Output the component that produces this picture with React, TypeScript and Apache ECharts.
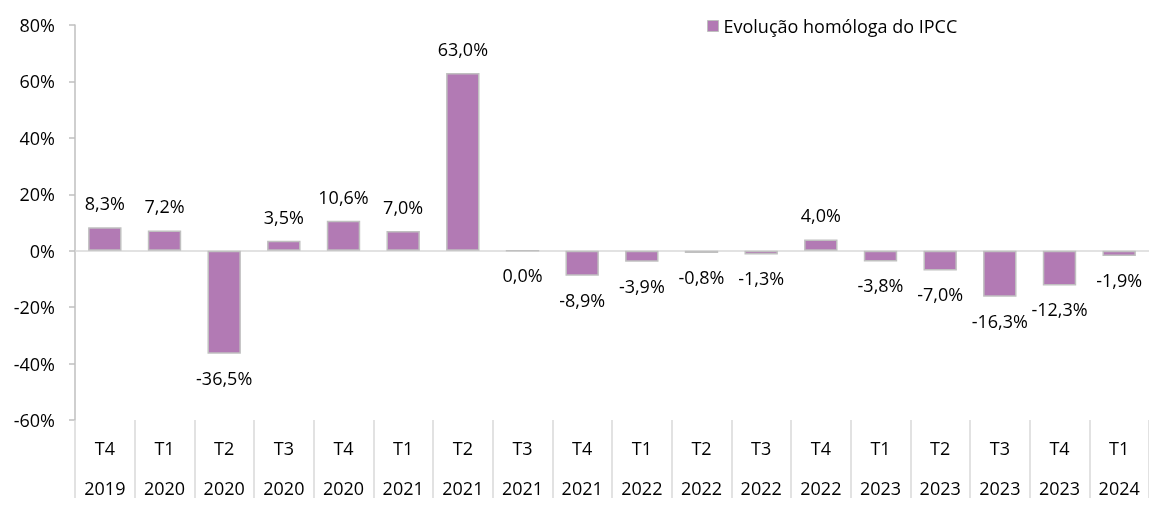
import React, { useEffect, useRef } from "react";
import * as echarts from "echarts";

const quarters = ["T4", "T1", "T2", "T3", "T4", "T1", "T2", "T3", "T4", "T1", "T2", "T3", "T4", "T1", "T2", "T3", "T4", "T1"];
const years = ["2019", "2020", "2020", "2020", "2020", "2021", "2021", "2021", "2021", "2022", "2022", "2022", "2022", "2023", "2023", "2023", "2023", "2024"];
const values = [8.3, 7.2, -36.5, 3.5, 10.6, 7.0, 63.0, 0.0, -8.9, -3.9, -0.8, -1.3, 4.0, -3.8, -7.0, -16.3, -12.3, -1.9];
// 0,0% is drawn below the axis in the reference, like the negative values
const labelBelow = [false, false, true, false, false, false, false, true, true, true, true, true, false, true, true, true, true, true];
const seriesName = "Evolução homóloga do IPCC";

const FONT = "'Open Sans', sans-serif";

export default function App() {
  const ref = useRef<HTMLDivElement>(null);
  useEffect(() => {
    if (!ref.current) return;
    const chart = echarts.init(ref.current, undefined, { renderer: "svg" });
    const categories = quarters.map((q, i) => `${q}\n${years[i]}`);
    chart.setOption({
      animation: false,
      textStyle: { fontFamily: FONT },
      grid: { left: 75, right: 0, top: 25, bottom: 78, containLabel: false },
      legend: {
        left: 702,
        top: 12,
        itemWidth: 11,
        itemHeight: 11,
        itemGap: 5,
        textStyle: { fontSize: 18, color: "#000", fontFamily: FONT },
        data: [{ name: seriesName, icon: "rect", itemStyle: { borderColor: "#bfbfbf", borderWidth: 1 } }],
      },
      xAxis: {
        type: "category",
        data: categories,
        boundaryGap: true,
        axisLine: { show: false, onZero: false },
        axisTick: { show: true, inside: false, length: 78, interval: 0, lineStyle: { color: "#d9d9d9", width: 1.5 } },
        axisLabel: { interval: 0, fontSize: 18, color: "#000", lineHeight: 40, margin: 8, fontFamily: FONT },
        splitLine: { show: false },
      },
      yAxis: {
        type: "value",
        min: -60,
        max: 80,
        interval: 20,
        axisLine: { show: true, lineStyle: { color: "#bfbfbf", width: 1.5 } },
        axisTick: { show: true, length: 6, lineStyle: { color: "#bfbfbf", width: 1.5 } },
        axisLabel: { formatter: (v: number) => `${v}%`, fontSize: 18, color: "#000", margin: 20, fontFamily: FONT },
        splitLine: { show: false },
      },
      series: [
        {
          name: seriesName,
          type: "bar",
          barWidth: "56%",
          data: values.map((v, i) => ({
            value: v,
            label: { position: labelBelow[i] ? "bottom" : "top" },
          })),
          itemStyle: { color: "#b27ab4", borderColor: "#c0c0c0", borderWidth: 1.5 },
          label: {
            show: true,
            distance: 15,
            fontSize: 18,
            color: "#000",
            fontFamily: FONT,
            formatter: (p: any) => `${Number(p.value).toFixed(1).replace(".", ",")}%`,
          },
          markLine: {
            silent: true,
            symbol: "none",
            label: { show: false },
            lineStyle: { color: "#d9d9d9", type: "solid", width: 1.5 },
            data: [{ yAxis: 0 }],
            z: 1,
          },
        },
      ],
    });
    return () => chart.dispose();
  }, []);
  return <div ref={ref} style={{ position: "fixed", left: 0, top: 0, width: 1149, height: 508 }} />;
}
